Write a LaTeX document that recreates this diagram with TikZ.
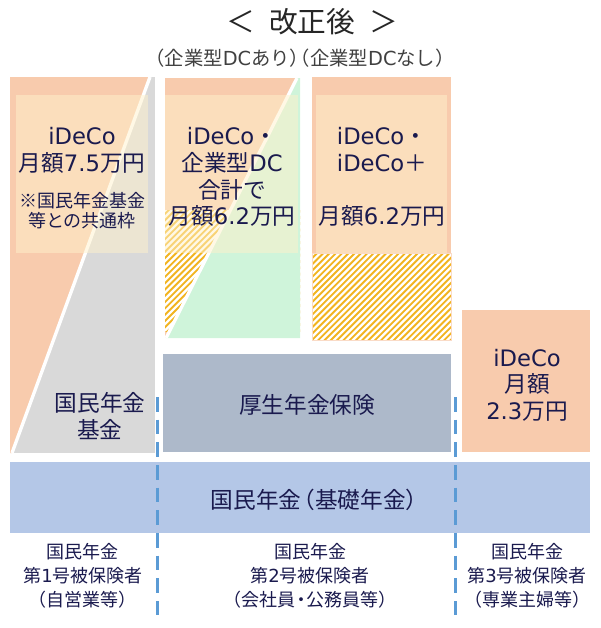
\documentclass[tikz,border=0pt]{standalone}
\usepackage{fontspec}
\setmainfont{Noto Sans CJK JP}
\newfontfamily\verdanalike{DejaVu Sans}
\newcommand{\latn}[1]{{\verdanalike #1}}
\newcommand{\lpar}{\kern-0.4em（}
\newcommand{\rpar}{）\kern-0.4em}
\definecolor{ideco}{HTML}{F8CBAD}
\definecolor{veilc}{HTML}{FFF2CC}
\definecolor{fundgray}{HTML}{D9D9D9}
\definecolor{dcgreen}{HTML}{CFF4DA}
\definecolor{hatchc}{HTML}{F2B420}
\definecolor{kousei}{HTML}{ADB9CA}
\definecolor{kokumin}{HTML}{B4C7E7}
\definecolor{divider}{HTML}{5B9BD5}
\definecolor{navy}{HTML}{1A1A4E}
\tikzset{
  boxtext/.style={text=navy, align=center, inner sep=0pt, font=\fontsize{17}{20}\selectfont},
  notetext/.style={text=navy, align=center, inner sep=0pt, font=\fontsize{13.5}{18}\selectfont},
  veil/.style={fill=veilc, fill opacity=0.5},
  cut/.style={white, line width=2.5pt},
  stripe/.style={hatchc, line width=1.4pt},
  divline/.style={divider, line width=2.25pt, dash pattern=on 11pt off 6pt}
}
\begin{document}
\begin{tikzpicture}[x=0.75pt,y=-0.75pt]
\useasboundingbox (0,0) rectangle (600,628);

% first column
\fill [fundgray] (10,77) rectangle (155,453);
\fill [ideco] (10,77) -- (150,77) -- (12,453) -- (10,453) -- cycle;
\draw [cut] (150,77) -- (12,453);
\fill [veil] (16,95) rectangle (148,253);

% second column, with DC
\fill [ideco] (165,78) rectangle (300,338);
\begin{scope}
\clip (165,210) rectangle (300,331);
\fill [white] (165,210) rectangle (300,331);
\foreach \i in {0,...,45} \draw [stripe] (20+6.3*\i,340) -- ++(140,-140);
\end{scope}
\fill [dcgreen] (297,78) -- (300,78) -- (300,338) -- (166,338) -- cycle;
\draw [cut] (297,78) -- (166,338);
\fill [veil] (165,95) rectangle (298,253);

% second column, no DC
\fill [ideco] (312,77) rectangle (451,253);
\fill [veil] (316,95) rectangle (447,253);
\begin{scope}
\clip (312,253) rectangle (451,340);
\fill [white] (312,253) rectangle (451,340);
\foreach \i in {0,...,40} \draw [stripe] (200+6.3*\i,345) -- ++(100,-100);
\end{scope}
\draw [ideco!70, line width=0.6pt] (312,253) rectangle (451,340);

% third column
\fill [ideco] (462,310) rectangle (590,452);

\fill [kousei] (163,354) rectangle (451,452);
\fill [kokumin] (10,462) rectangle (590,533);

\draw [divline] (157,397) -- (157,615);
\draw [divline] (455,397) -- (455,615);

\node [text=black!85, inner sep=0pt, font=\fontsize{21.5}{24}\selectfont] (title) at (312,22) {＜\hspace{0.5em}改正後\hspace{0.5em}＞};
\node [text=black!75, inner sep=0pt, font=\fontsize{14.5}{16}\selectfont] (subtitle) at (300,58) {\lpar 企業型\latn{DC}あり）\kern-0.95em（企業型\latn{DC}なし\rpar};

\node [boxtext] (ideco1) at (82,150) {\latn{iDeCo}\\月額\latn{7.5}万円};
\node [notetext, font=\fontsize{13.5}{15}\selectfont] (note1) at (82,211) {※国民年金基金\\等との共通枠};
\node [boxtext] (fund) at (100,416) {国民年金\\基金};
\node [boxtext] (ideco2) at (232,177) {\latn{iDeCo}・\\企業型\latn{DC}\\合計で\\月額\latn{6.2}万円};
\node [boxtext] (ideco2b) at (382,177) {\latn{iDeCo}・\\\latn{iDeCo}＋\\[20pt]月額\latn{6.2}万円};
\node [boxtext] (ideco3) at (527,385) {\latn{iDeCo}\\月額\\\latn{2.3}万円};
\node [boxtext] (kousei) at (307,405) {厚生年金保険};
\node [boxtext] (kiso) at (315,500) {国民年金\lpar 基礎年金\rpar};

\node [notetext] (cat1) at (83,576) {国民年金\\第\latn{1}号被保険者\\\lpar 自営業等\rpar};
\node [notetext] (cat2) at (310,576) {国民年金\\第\latn{2}号被保険者\\\lpar 会社員\kern-0.2em・\kern-0.2em公務員等\rpar};
\node [notetext] (cat3) at (527,576) {国民年金\\第\latn{3}号被保険者\\\lpar 専業主婦等\rpar};
\end{tikzpicture}
\end{document}
